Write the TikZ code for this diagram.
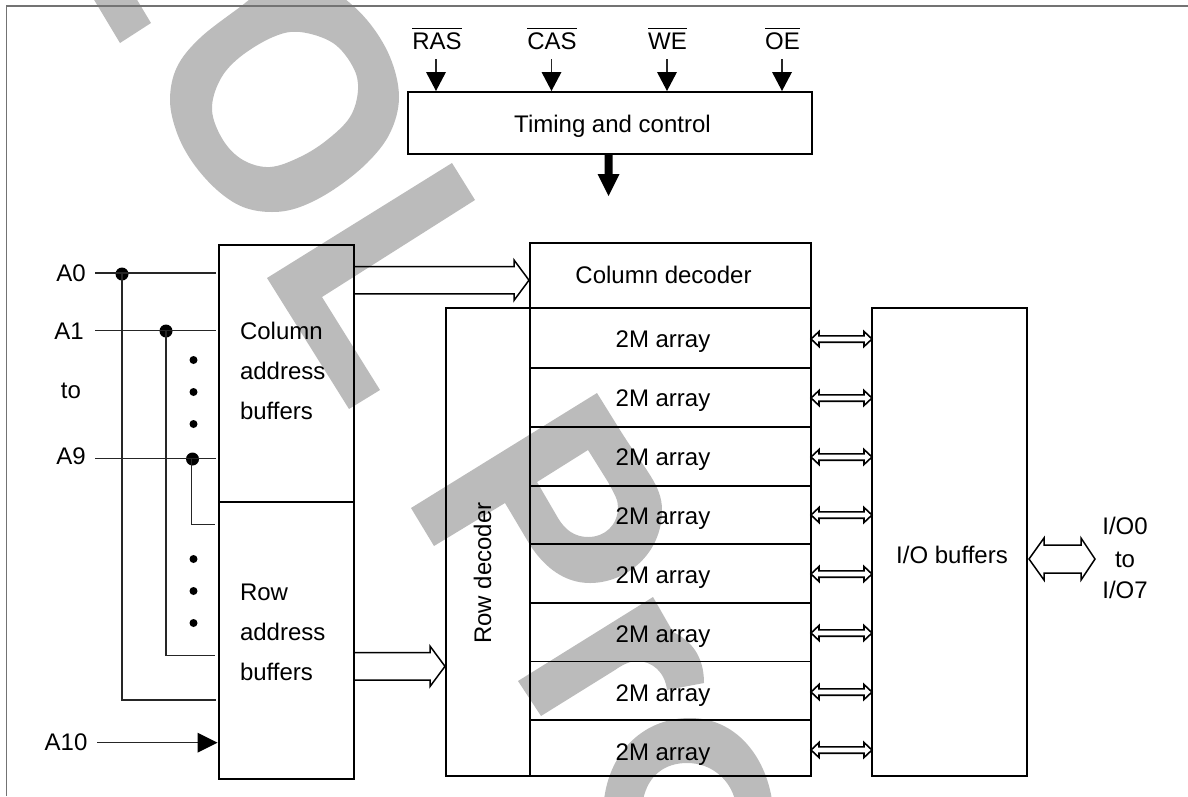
\documentclass[tikz,border=0pt]{standalone}
\usepackage{fontspec}
\setmainfont{Liberation Sans}
\usetikzlibrary{calc}
\definecolor{wm}{HTML}{BBBBBB}
\newcommand\barlabel[1]{\leavevmode\setbox0\hbox{#1}\rlap{\rule[20.2pt]{\wd0}{1.1pt}}\box0}
\tikzset{
  wmark/.style={fill=wm,draw=none},
  blockbox/.style={draw=black,line width=1.5pt,inner sep=0pt,outer sep=0pt,font=\fontsize{24}{24}\selectfont},
  lbl/.style={inner sep=0pt,outer sep=0pt,anchor=base,font=\fontsize{24}{24}\selectfont},
  lblw/.style={lbl,anchor=base west},
  wire/.style={draw=black!85,line width=1.1pt},
  frameline/.style={draw=black!55,line width=1.6pt},
  hollow/.style={draw=black,line width=1.5pt,line join=miter},
  solidhead/.style={fill=black,draw=none},
  junction/.style={circle,fill=black,inner sep=0pt,outer sep=0pt,minimum size=13pt},
  bullet/.style={circle,fill=black,inner sep=0pt,outer sep=0pt,minimum size=8pt},
}
\begin{document}
\begin{tikzpicture}[x=1pt,y=-1pt]
\useasboundingbox (0,0) rectangle (1188,796);
% watermark
\begin{scope}
\clip (0,0) rectangle (1188,796);
\fill[wmark] (93,-2) -- (120,43) -- (151,23) -- (136,-2) -- cycle;
\fill[wmark,even odd rule]
  plot[smooth cycle,tension=.6] coordinates {(270,-15) (240,7) (200,38) (177,67) (170,100) (177,133) (193,163) (217,190) (243,207) (272,212) (300,207) (333,190) (367,163) (390,133) (399,97) (390,57) (367,20) (335,-8) (300,-22)}
  plot[smooth cycle,tension=.6] coordinates {(300,32) (333,43) (353,67) (358,90) (350,117) (327,140) (300,157) (270,167) (243,160) (223,140) (212,110) (220,80) (240,57) (273,37)};
\fill[wmark] (267,278) -- (452,163) -- (475,200) -- (322,297) -- (380,390) -- (349,409) -- cycle;
\fill[wmark,even odd rule]
  (597,393) -- (620,430) .. controls (645,470) and (662,485) .. (662,510) .. controls (662,555) and (625,583) .. (590,583) .. controls (565,583) and (545,568) .. (530,545) -- (505,503) -- (434,546) -- (411,508) -- cycle
  (537,482) -- (588,450) -- (608,482) .. controls (615,495) and (618,500) .. (618,507) .. controls (618,525) and (605,537) .. (588,537) .. controls (575,537) and (565,530) .. (558,518) -- cycle;
\fill[wmark] (653,597) -- (673,632) .. controls (690,640) and (704,655) .. (704,683) -- (667,690) .. controls (665,672) and (652,661) .. (637,661) .. controls (630,661) and (622,665) .. (615,670) -- (541,716) -- (518,681) -- cycle;
\fill[wmark] (604,800) .. controls (610,750) and (645,718) .. (690,718) .. controls (735,718) and (765,755) .. (772,800) -- (735,800) .. controls (730,780) and (712,763) .. (687,763) .. controls (665,763) and (648,775) .. (643,800) -- cycle;
\end{scope}
% frame
\coordinate (fa) at (6.5,796);
\coordinate (fb) at (6.5,6);
\coordinate (fc) at (1188,6);
\draw[frameline] (fa) -- (fb) -- (fc);
% blocks
\node[blockbox,minimum width=404pt,minimum height=62pt] (tc) at (610,123) {};
\node[lbl] at (612.5,132) {Timing and control};
\node[blockbox,minimum width=281pt,minimum height=65pt] (cd) at (670.5,275.5) {};
\node[lbl] at (663.5,283.5) {Column decoder};
\node[blockbox,minimum width=84pt,minimum height=468pt] (rd) at (488,542) {};
\node[lbl,rotate=90,anchor=base] at (491,573) {Row decoder};
\node[blockbox,minimum width=135pt,minimum height=257pt] (cab) at (286.5,373.5) {};
\node[blockbox,minimum width=135pt,minimum height=277pt] (rab) at (286.5,640.5) {};
\node[lblw] at (240,339) {Column};
\node[lblw] at (240,379) {address};
\node[lblw] at (240,419) {buffers};
\node[lblw] at (240,600.7) {Row};
\node[lblw] at (240,640.7) {address};
\node[lblw] at (240,680.7) {buffers};
\node[blockbox,minimum width=155pt,minimum height=468pt] (iob) at (949.5,542) {};
\node[lbl] at (952,563) {I/O buffers};
% array rows
\foreach \i/\top/\bot/\ty/\cy in {1/308/368/347/339,2/368/427/406/398,3/427/486/465/457,4/486/544/524/515,5/544/603/583/574,6/603/661.5/642/633,7/661.5/720/701/692,8/720/776/760/750}{
  \coordinate (tl\i) at (530,\top);
  \coordinate (cr\i) at (811,\bot);
  \draw[blockbox] (tl\i) rectangle (cr\i);
  \node[lbl] at (663,\ty) {2M array};
  % bidirectional bus to I/O buffers
  \coordinate (bl\i) at (811,\cy);
  \coordinate (br\i) at (872,\cy);
  \draw[hollow,line width=1.6pt] ($(bl\i)+(8,-3.2)$) -- ($(br\i)+(-8,-3.2)$) -- ($(br\i)+(-8,-7.5)$) -- (br\i) -- ($(br\i)+(-8,7.5)$) -- ($(br\i)+(-8,3.2)$) -- ($(bl\i)+(8,3.2)$) -- ($(bl\i)+(8,7.5)$) -- (bl\i) -- ($(bl\i)+(8,-7.5)$) -- cycle;
}
% control inputs
\foreach \n/\x in {ras/436,cas/551.5,we/667,oe/782}{
  \coordinate (\n) at (\x,59);
  \coordinate (\n t) at (\n |- tc.north);
  \draw[wire] (\n) -- ($(\n t)+(0,-14)$);
  \fill[solidhead] ($(\n t)+(-10,-20)$) -- ($(\n t)+(10,-20)$) -- ($(\n t)+(0,-1)$) -- cycle;
}
\node[lbl] at (437,49) {\barlabel{RAS}};
\node[lbl] at (552,49) {\barlabel{CAS}};
\node[lbl] at (667.5,49) {\barlabel{WE}};
\node[lbl] at (782.5,49) {\barlabel{OE}};
% thick arrow
\coordinate (tct) at (608.5,196);
\fill[solidhead] (tc.south -| tct) ++(-4,0) -- ++(8,0) -- (612.5,174) -- (619.5,174) -- (tct) -- (597.5,174) -- (604.5,174) -- cycle;
% address labels
\node[lbl] (a0) at (71,281.7) {A0};
\node[lbl] (a1) at (69,339) {A1};
\node[lbl] (ato) at (71,398) {to};
\node[lbl] (a9) at (71,464.5) {A9};
\node[lbl] (a10) at (66,750.7) {A10};
% address wires
\coordinate (s0) at (95,273);
\coordinate (e0) at (216,273);
\coordinate (s1) at (95,330.5);
\coordinate (e1) at (216,330.5);
\coordinate (s9) at (95,458.7);
\coordinate (e9) at (216,458.7);
\node[junction] (j0) at (122,274) {};
\node[junction] (j1) at (166,331) {};
\node[junction] (j9) at (192.5,459) {};
\draw[wire] (s0) -- (e0);
\draw[wire] (s1) -- (e1);
\draw[wire] (s9) -- (e9);
\coordinate (r0) at (216,700);
\coordinate (r1) at (215,655.5);
\coordinate (r9) at (215,524.3);
\draw[wire] (j0.center) -- (j0.center |- r0) -- (r0);
\draw[wire] (j1.center) -- (j1.center |- r1) -- (r1);
\draw[wire] (191.5,459) -- (191.5,524.3) -- (r9);
\foreach \n/\y in {1/360,2/392,3/424,4/559,5/591,6/623}{
  \node[bullet] (d\n) at (193.5,\y) {};
}
% A10
\coordinate (s10) at (97,742.7);
\coordinate (t10) at (217.5,742.7);
\draw[wire] (s10) -- ($(t10)+(-20,0)$);
\fill[solidhead] ($(t10)+(-20,-10)$) -- (t10) -- ($(t10)+(-20,10)$) -- cycle;
% column address bus
\coordinate (cs) at (354,280.2);
\coordinate (ct) at (529,280.2);
\draw[hollow] ($(cs)+(0,-13.7)$) -- ($(ct)+(-15,-13.7)$) -- ($(ct)+(-15,-20.2)$) -- (ct) -- ($(ct)+(-15,20.2)$) -- ($(ct)+(-15,13.7)$) -- ($(cs)+(0,13.7)$);
% row address bus
\coordinate (ras2) at (354,666.3);
\coordinate (rt2) at (445,666.3);
\draw[hollow] ($(ras2)+(0,-13.7)$) -- ($(rt2)+(-15,-13.7)$) -- ($(rt2)+(-15,-20.2)$) -- (rt2) -- ($(rt2)+(-15,20.2)$) -- ($(rt2)+(-15,13.7)$) -- ($(ras2)+(0,13.7)$);
% I/O bus
\coordinate (il) at (1029,559);
\coordinate (ir) at (1095,559);
\draw[hollow] ($(il)+(15,-14)$) -- ($(ir)+(-14,-14)$) -- ($(ir)+(-14,-21)$) -- (ir) -- ($(ir)+(-14,21)$) -- ($(ir)+(-14,14)$) -- ($(il)+(15,14)$) -- ($(il)+(15,21)$) -- (il) -- ($(il)+(15,-21)$) -- cycle;
\node[lbl] at (1125,534) {I/O0};
\node[lbl] at (1125,567) {to};
\node[lbl] at (1125,598) {I/O7};
\end{tikzpicture}
\end{document}
